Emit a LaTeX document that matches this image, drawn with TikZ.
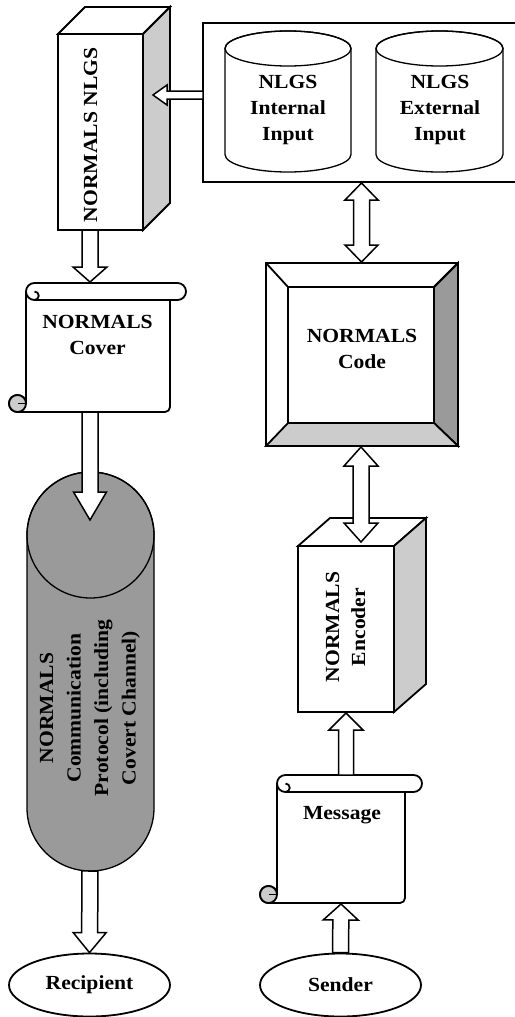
\documentclass[tikz,border=0pt]{standalone}
\usepackage{fontspec}
\setmainfont{Liberation Serif}[FakeStretch=1.08]
\usetikzlibrary{calc,shapes.geometric}

\definecolor{sidegray}{HTML}{CCCCCC}
\definecolor{deepgray}{HTML}{9A9A9A}

\tikzset{
  heavy/.style={line width=1.8pt, line join=miter},
  light/.style={line width=1.3pt},
  barrow/.style={line width=1.5pt, line join=miter, fill=white, draw=black},
  lbl/.style={font=\bfseries\fontsize{20}{26}\selectfont, align=center, inner sep=0pt},
}

% single block arrow: #1 start, #2 tip, #3 shaft half width, #4 head half width, #5 head length
\newcommand\blockarrow[5]{%
  \path (#1) coordinate (ba-s) (#2) coordinate (ba-t);
  \path ($(ba-t)!#5pt!(ba-s)$) coordinate (ba-h);
  \filldraw[barrow] ($(ba-s)!#3pt!90:(ba-t)$) -- ($(ba-h)!#3pt!90:(ba-t)$)
    -- ($(ba-h)!#4pt!90:(ba-t)$) -- (ba-t) -- ($(ba-h)!#4pt!-90:(ba-t)$)
    -- ($(ba-h)!#3pt!-90:(ba-t)$) -- ($(ba-s)!#3pt!-90:(ba-t)$) -- cycle;
}
% double block arrow between #1 and #2
\newcommand\dblarrow[5]{%
  \path (#1) coordinate (da-a) (#2) coordinate (da-b);
  \path ($(da-a)!#5pt!(da-b)$) coordinate (da-ha) ($(da-b)!#5pt!(da-a)$) coordinate (da-hb);
  \filldraw[barrow] (da-a) -- ($(da-ha)!#4pt!90:(da-b)$) -- ($(da-ha)!#3pt!90:(da-b)$)
    -- ($(da-hb)!#3pt!90:(da-b)$) -- ($(da-hb)!#4pt!90:(da-b)$) -- (da-b)
    -- ($(da-hb)!#4pt!-90:(da-b)$) -- ($(da-hb)!#3pt!-90:(da-b)$)
    -- ($(da-ha)!#3pt!-90:(da-b)$) -- ($(da-ha)!#4pt!-90:(da-b)$) -- cycle;
}
% scroll: #1 left, #2 top, #3 body right, #4 roll right, #5 bottom
\newcommand\scrollshape[5]{%
  \filldraw[heavy, fill=white] (#1,{#2-8.5}) arc[start angle=180, end angle=90, radius=8.5]
    -- ({#4-8.5},#2) arc[start angle=90, end angle=-90, radius=8.5]
    -- (#3,{#2-17}) -- (#3,{#5+5}) arc[start angle=0, end angle=-90, radius=5]
    -- ({#1-8.5},#5) arc[start angle=270, end angle=0, radius=8.5] -- cycle;
  \draw[heavy] ({#1+8.5},{#2-17}) -- (#3,{#2-17});
  \draw[heavy] (#1,{#2-8.5}) arc[start angle=180, end angle=270, radius=8.5]
    arc[start angle=-90, end angle=90, radius=4.25];
  \filldraw[heavy, fill=sidegray] ({#1-8.5},{#5+8.5}) circle[radius=8.5];
  \draw[heavy] ({#1-8.5},{#5+8.5}) -- (#1,{#5+8.5});
}

\begin{document}
\begin{tikzpicture}[x=1pt,y=1pt]
\useasboundingbox (0,0) rectangle (514,-1017);

% input store with its two databases
\draw[heavy, fill=white] (203,-23) rectangle (530,-182);
\coordinate (store-w) at (203,-95);
\coordinate (store-s) at (361.5,-183);
\foreach \cx/\rx in {288/63, 439.5/63.5}{
  \filldraw[light, fill=white] ({\cx-\rx},-48.5) -- ({\cx-\rx},-154.5)
    arc[start angle=180, end angle=360, x radius=\rx, y radius=17.5]
    -- ({\cx+\rx},-48.5) arc[start angle=0, end angle=180, x radius=\rx, y radius=17.5] -- cycle;
  \draw[light] (\cx,-48.5) ellipse[x radius=\rx, y radius=17.5];
}
\node[lbl] (intin) at (288,-110) {NLGS\\Internal\\Input};
\node[lbl] (extin) at (440,-110) {NLGS\\External\\Input};

% NLGS block
\filldraw[heavy, fill=white] (58,-34) -- (85,-7) -- (170,-7) -- (143,-34) -- cycle;
\filldraw[heavy, fill=sidegray] (143,-34) -- (170,-7) -- (170,-203) -- (143,-230) -- cycle;
\draw[heavy] (58,-34) rectangle (143,-230);
\node[lbl, rotate=90] (nlgs) at (90.5,-135) {NORMALS NLGS};
\coordinate (nlgs-in) at (153,-95);
\coordinate (nlgs-out) at (90,-230);
\blockarrow{store-w}{nlgs-in}{4}{10}{14}

% cover scroll
\scrollshape{26}{-283}{170}{186}{-412}
\node[lbl] (cover) at (97.5,-335) {NORMALS\\Cover};
\coordinate (cover-in) at (90,-282);
\coordinate (cover-out) at (90,-412);
\blockarrow{nlgs-out}{cover-in}{8}{17}{15}

% communication protocol
\filldraw[light, fill=deepgray] (27,-535) -- (27,-808)
  arc[start angle=180, end angle=360, x radius=63.5, y radius=63]
  -- (154,-535) arc[start angle=0, end angle=180, x radius=63.5, y radius=63] -- cycle;
\draw[light] (90.5,-535) ellipse[x radius=63.5, y radius=63];
\node[lbl, rotate=90, font=\bfseries\fontsize{20}{27.5}\selectfont] (comm) at (90,-708)
  {NORMALS\\Communication\\Protocol (including\\Covert Channel)};
\coordinate (comm-in) at (90,-520);
\coordinate (comm-out) at (90,-871);
\blockarrow{cover-out}{comm-in}{8}{16.5}{28}

% end points
\node[lbl, ellipse, draw, heavy, minimum width=161pt, minimum height=63pt] (recipient) at (89.5,-985) {Recipient};
\node[lbl, ellipse, draw, heavy, minimum width=161pt, minimum height=63pt] (sender) at (340.5,-985) {Sender};
\blockarrow{comm-out}{recipient.north}{8}{16.5}{20}

% code box
\filldraw[heavy, fill=white] (266,-263) rectangle (458,-446);
\filldraw[heavy, fill=deepgray] (458,-263) -- (458,-446) -- (434,-423) -- (434,-287) -- cycle;
\filldraw[heavy, fill=sidegray] (266,-446) -- (458,-446) -- (434,-423) -- (288,-423) -- cycle;
\draw[heavy] (266,-263) -- (288,-287) (458,-263) -- (434,-287);
\draw[heavy] (288,-287) rectangle (434,-423);
\node[lbl] (code) at (362,-348.5) {NORMALS\\Code};
\coordinate (code-n) at (361.5,-262);
\coordinate (code-s) at (361,-447);
\dblarrow{store-s}{code-n}{8}{16.5}{17}

% encoder block
\filldraw[heavy, fill=white] (298,-546) -- (330,-518) -- (426,-518) -- (394,-546) -- cycle;
\filldraw[heavy, fill=sidegray] (394,-546) -- (426,-518) -- (426,-684) -- (394,-712) -- cycle;
\draw[heavy] (298,-546) rectangle (394,-712);
\node[lbl, rotate=90] (encoder) at (345.5,-627) {NORMALS\\Encoder};
\coordinate (enc-n) at (361,-542);
\coordinate (enc-s) at (346,-713);
\dblarrow{code-s}{enc-n}{8}{17}{19}

% message scroll
\scrollshape{277}{-775}{405}{422}{-903}
\node[lbl] (message) at (342,-815) {Message};
\coordinate (msg-n) at (346,-775);
\coordinate (msg-s) at (341,-904);
\blockarrow{msg-n}{enc-s}{7.5}{17}{17}
\blockarrow{sender.north}{msg-s}{8}{17.5}{16}
\end{tikzpicture}
\end{document}
